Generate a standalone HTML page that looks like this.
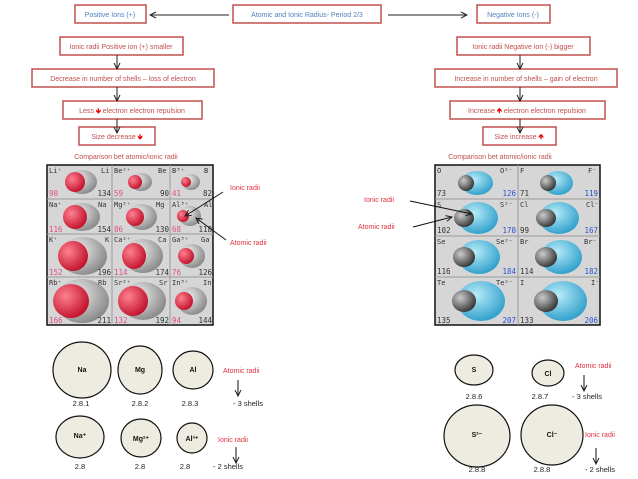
<!DOCTYPE html>
<html><head><meta charset="utf-8"><style>
html,body{margin:0;padding:0;background:#fff;}
svg{display:block;font-family:"Liberation Sans",sans-serif;}
.b{fill:#fff;stroke:#c0504d;stroke-width:1.5}
.bt{fill:#4f81bd;font-size:7px;text-anchor:middle}
.rt{fill:#c0504d;font-size:7px;text-anchor:middle}
.r{fill:#e03040;font-size:7px}
.k{fill:#222;font-size:7px;text-anchor:middle}
.s{fill:#333;font-size:7px;font-family:"DejaVu Sans Mono",monospace}
.bl{fill:#3050d0;font-size:7.5px;font-family:"DejaVu Sans Mono",monospace}
.pk{fill:#e0508a;font-size:7.5px;font-family:"DejaVu Sans Mono",monospace}
.dk{fill:#333;font-size:7.5px;font-family:"DejaVu Sans Mono",monospace}
.c{fill:#eeece1;stroke:#111;stroke-width:1.2}
.ct{fill:#111;font-size:7px;font-weight:bold;text-anchor:middle}
.n{fill:#222;font-size:7.5px;text-anchor:middle}
</style></head><body>
<svg width="638" height="479" viewBox="0 0 638 479">
<defs>
<marker id="a" markerWidth="8" markerHeight="8" refX="7" refY="4" orient="auto"><path d="M1,1 L7,4 L1,7" fill="none" stroke="#222" stroke-width="1"/></marker>
<radialGradient id="g" cx="0.35" cy="0.35" r="0.7"><stop offset="0" stop-color="#f4f4f4"/><stop offset="1" stop-color="#888"/></radialGradient>
<radialGradient id="rd" cx="0.35" cy="0.35" r="0.7"><stop offset="0" stop-color="#ff8090"/><stop offset="1" stop-color="#c0102a"/></radialGradient>
<radialGradient id="bu" cx="0.4" cy="0.35" r="0.7"><stop offset="0" stop-color="#b8ecfa"/><stop offset="1" stop-color="#2a9cc8"/></radialGradient>
<radialGradient id="dg" cx="0.35" cy="0.35" r="0.7"><stop offset="0" stop-color="#ccc"/><stop offset="1" stop-color="#333"/></radialGradient>
</defs>
<!-- top row -->
<rect class="b" x="75" y="5" width="71" height="18"/><text class="bt" x="110" y="17">Positive Ions (+)</text>
<rect class="b" x="233" y="5" width="148" height="18"/><text class="bt" x="307" y="17">Atomic and Ionic  Radius- Period 2/3</text>
<rect class="b" x="477" y="5" width="73" height="18"/><text class="bt" x="513" y="17">Negative Ions (-)</text>
<line x1="229" y1="15" x2="150" y2="15" stroke="#222" marker-end="url(#a)"/>
<line x1="388" y1="15" x2="467" y2="15" stroke="#222" marker-end="url(#a)"/>
<!-- left chain -->
<rect class="b" x="60" y="37" width="123" height="18"/><text class="rt" x="121" y="49">Ionic radii Positive ion (+) smaller</text>
<rect class="b" x="32" y="69" width="182" height="18"/><text class="rt" x="123" y="81">Decrease in number of shells – loss of electron</text>
<rect class="b" x="63" y="101" width="139" height="18"/><text class="rt" x="132" y="113">Less <tspan fill="#e00" font-weight="bold">🡻</tspan> electron electron repulsion</text>
<rect class="b" x="79" y="127" width="76" height="18"/><text class="rt" x="117" y="139">Size decrease <tspan fill="#e00" font-weight="bold">🡻</tspan></text>
<line x1="117" y1="55" x2="117" y2="69" stroke="#222" marker-end="url(#a)"/>
<line x1="117" y1="87" x2="117" y2="101" stroke="#222" marker-end="url(#a)"/>
<line x1="117" y1="119" x2="117" y2="133" stroke="#222" marker-end="url(#a)"/>
<text class="rt" x="126" y="159">Comparison bet atomic/ionic radii</text>
<!-- right chain -->
<rect class="b" x="457" y="37" width="133" height="18"/><text class="rt" x="523" y="49">Ionic radii Negative ion (-) bigger</text>
<rect class="b" x="435" y="69" width="182" height="18"/><text class="rt" x="526" y="81">Increase in number of shells – gain of electron</text>
<rect class="b" x="450" y="101" width="155" height="18"/><text class="rt" x="527" y="113">Increase <tspan fill="#e00" font-weight="bold">🡹</tspan> electron electron repulsion</text>
<rect class="b" x="483" y="127" width="73" height="18"/><text class="rt" x="519" y="139">Size increase <tspan fill="#e00" font-weight="bold">🡹</tspan></text>
<line x1="520" y1="55" x2="520" y2="69" stroke="#222" marker-end="url(#a)"/>
<line x1="520" y1="87" x2="520" y2="101" stroke="#222" marker-end="url(#a)"/>
<line x1="520" y1="119" x2="520" y2="133" stroke="#222" marker-end="url(#a)"/>
<text class="rt" x="500" y="159">Comparison bet atomic/ionic radii</text>

<!-- left table -->
<rect x="47" y="165" width="166" height="160" fill="#d6d6d6" stroke="#111" stroke-width="1.5"/>
<g stroke="#999" stroke-width="1"><line x1="112" y1="165" x2="112" y2="325"/><line x1="170" y1="165" x2="170" y2="325"/>
<line x1="47" y1="199" x2="213" y2="199"/><line x1="47" y1="234" x2="213" y2="234"/><line x1="47" y1="277" x2="213" y2="277"/></g>
<g>
<ellipse cx="82" cy="182" rx="15" ry="12" fill="url(#g)"/><ellipse cx="75" cy="182" rx="10" ry="10" fill="url(#rd)"/>
<ellipse cx="141" cy="182" rx="11" ry="9" fill="url(#g)"/><ellipse cx="135" cy="182" rx="7" ry="7" fill="url(#rd)"/>
<ellipse cx="191" cy="182" rx="9" ry="8" fill="url(#g)"/><ellipse cx="186" cy="182" rx="5" ry="5" fill="url(#rd)"/>
<ellipse cx="82" cy="217" rx="18" ry="14" fill="url(#g)"/><ellipse cx="75" cy="217" rx="12" ry="12" fill="url(#rd)"/>
<ellipse cx="142" cy="217" rx="15" ry="13" fill="url(#g)"/><ellipse cx="135" cy="217" rx="9" ry="9" fill="url(#rd)"/>
<ellipse cx="190" cy="216" rx="11" ry="10" fill="url(#g)"/><ellipse cx="183" cy="216" rx="6" ry="6" fill="url(#rd)"/>
<ellipse cx="83" cy="256" rx="24" ry="19" fill="url(#g)"/><ellipse cx="73" cy="256" rx="15" ry="15" fill="url(#rd)"/>
<ellipse cx="143" cy="256" rx="20" ry="17" fill="url(#g)"/><ellipse cx="134" cy="256" rx="12" ry="13" fill="url(#rd)"/>
<ellipse cx="192" cy="256" rx="13" ry="12" fill="url(#g)"/><ellipse cx="186" cy="256" rx="8" ry="8" fill="url(#rd)"/>
<ellipse cx="82" cy="301" rx="27" ry="22" fill="url(#g)"/><ellipse cx="71" cy="301" rx="18" ry="17" fill="url(#rd)"/>
<ellipse cx="143" cy="301" rx="23" ry="19" fill="url(#g)"/><ellipse cx="133" cy="301" rx="15" ry="15" fill="url(#rd)"/>
<ellipse cx="192" cy="301" rx="15" ry="14" fill="url(#g)"/><ellipse cx="184" cy="301" rx="9" ry="9" fill="url(#rd)"/>
</g>
<g class="s">
<text x="49" y="173">Li⁺</text><text x="101" y="173">Li</text><text x="114" y="173">Be²⁺</text><text x="158" y="173">Be</text><text x="172" y="173">B³⁺</text><text x="204" y="173">B</text>
<text x="49" y="207">Na⁺</text><text x="98" y="207">Na</text><text x="114" y="207">Mg²⁺</text><text x="156" y="207">Mg</text><text x="172" y="207">Al³⁺</text><text x="204" y="207">Al</text>
<text x="49" y="242">K⁺</text><text x="105" y="242">K</text><text x="114" y="242">Ca²⁺</text><text x="158" y="242">Ca</text><text x="172" y="242">Ga³⁺</text><text x="201" y="242">Ga</text>
<text x="49" y="285">Rb⁺</text><text x="98" y="285">Rb</text><text x="114" y="285">Sr²⁺</text><text x="159" y="285">Sr</text><text x="172" y="285">In³⁺</text><text x="203" y="285">In</text>
</g>
<g class="pk"><text x="49" y="196">90</text><text x="114" y="196">59</text><text x="172" y="196">41</text>
<text x="49" y="232">116</text><text x="114" y="232">86</text><text x="172" y="232">68</text>
<text x="49" y="275">152</text><text x="114" y="275">114</text><text x="172" y="275">76</text>
<text x="49" y="323">166</text><text x="114" y="323">132</text><text x="172" y="323">94</text></g>
<g class="dk" text-anchor="end"><text x="111" y="196">134</text><text x="169" y="196">90</text><text x="212" y="196">82</text>
<text x="111" y="232">154</text><text x="169" y="232">130</text><text x="212" y="232">118</text>
<text x="111" y="275">196</text><text x="169" y="275">174</text><text x="212" y="275">126</text>
<text x="111" y="323">211</text><text x="169" y="323">192</text><text x="212" y="323">144</text></g>
<text class="r" x="230" y="190">Ionic radii</text><text class="r" x="230" y="245">Atomic radii</text>
<line x1="223" y1="192" x2="185" y2="216" stroke="#111" marker-end="url(#a)"/>
<line x1="226" y1="240" x2="196" y2="218" stroke="#111" marker-end="url(#a)"/>

<!-- right table -->
<rect x="435" y="165" width="165" height="160" fill="#d6d6d6" stroke="#111" stroke-width="1.5"/>
<g stroke="#999" stroke-width="1"><line x1="518" y1="165" x2="518" y2="325"/>
<line x1="435" y1="199" x2="600" y2="199"/><line x1="435" y1="236" x2="600" y2="236"/><line x1="435" y1="277" x2="600" y2="277"/></g>
<g>
<ellipse cx="477" cy="183" rx="16" ry="12" fill="url(#bu)"/><ellipse cx="466" cy="183" rx="8" ry="8" fill="url(#dg)"/>
<ellipse cx="558" cy="183" rx="15" ry="12" fill="url(#bu)"/><ellipse cx="548" cy="183" rx="8" ry="8" fill="url(#dg)"/>
<ellipse cx="478" cy="218" rx="20" ry="16" fill="url(#bu)"/><ellipse cx="464" cy="218" rx="10" ry="9" fill="url(#dg)"/>
<ellipse cx="559" cy="218" rx="20" ry="16" fill="url(#bu)"/><ellipse cx="546" cy="218" rx="10" ry="9" fill="url(#dg)"/>
<ellipse cx="479" cy="257" rx="21" ry="17" fill="url(#bu)"/><ellipse cx="464" cy="257" rx="11" ry="10" fill="url(#dg)"/>
<ellipse cx="561" cy="257" rx="21" ry="17" fill="url(#bu)"/><ellipse cx="546" cy="257" rx="11" ry="10" fill="url(#dg)"/>
<ellipse cx="481" cy="301" rx="24" ry="20" fill="url(#bu)"/><ellipse cx="464" cy="301" rx="12" ry="11" fill="url(#dg)"/>
<ellipse cx="563" cy="301" rx="24" ry="20" fill="url(#bu)"/><ellipse cx="546" cy="301" rx="12" ry="11" fill="url(#dg)"/>
</g>
<g class="s">
<text x="437" y="173">O</text><text x="500" y="173">O²⁻</text><text x="520" y="173">F</text><text x="588" y="173">F⁻</text>
<text x="437" y="207">S</text><text x="500" y="207">S²⁻</text><text x="520" y="207">Cl</text><text x="586" y="207">Cl⁻</text>
<text x="437" y="244">Se</text><text x="496" y="244">Se²⁻</text><text x="520" y="244">Br</text><text x="584" y="244">Br⁻</text>
<text x="437" y="285">Te</text><text x="496" y="285">Te²⁻</text><text x="520" y="285">I</text><text x="591" y="285">I⁻</text>
</g>
<g class="dk"><text x="437" y="196">73</text><text x="520" y="196">71</text><text x="437" y="233">102</text><text x="520" y="233">99</text>
<text x="437" y="274">116</text><text x="520" y="274">114</text><text x="437" y="323">135</text><text x="520" y="323">133</text></g>
<g class="bl" text-anchor="end"><text x="516" y="196">126</text><text x="598" y="196">119</text><text x="516" y="233">170</text><text x="598" y="233">167</text>
<text x="516" y="274">184</text><text x="598" y="274">182</text><text x="516" y="323">207</text><text x="598" y="323">206</text></g>
<text class="r" x="364" y="202">Ionic radii</text><text class="r" x="358" y="229">Atomic radii</text>
<line x1="410" y1="201" x2="472" y2="214" stroke="#111" marker-end="url(#a)"/>
<line x1="413" y1="227" x2="452" y2="217" stroke="#111" marker-end="url(#a)"/>

<!-- bottom left -->
<ellipse class="c" cx="82" cy="370" rx="29" ry="28"/><text class="ct" x="82" y="372">Na</text>
<ellipse class="c" cx="140" cy="370" rx="22" ry="24"/><text class="ct" x="140" y="372">Mg</text>
<ellipse class="c" cx="193" cy="370" rx="20" ry="19"/><text class="ct" x="193" y="372">Al</text>
<text class="n" x="81" y="406">2.8.1</text><text class="n" x="140" y="406">2.8.2</text><text class="n" x="190" y="406">2.8.3</text><text class="n" x="248" y="406">- 3 shells</text>
<text class="r" x="223" y="373">Atomic radii</text>
<line x1="238" y1="380" x2="238" y2="396" stroke="#111" marker-end="url(#a)"/>
<ellipse class="c" cx="80" cy="437" rx="24" ry="21"/><text class="ct" x="80" y="438">Na⁺</text>
<ellipse class="c" cx="141" cy="438" rx="20" ry="19"/><text class="ct" x="141" y="441">Mg²⁺</text>
<ellipse class="c" cx="192" cy="438" rx="15" ry="15"/><text class="ct" x="192" y="441" font-size="6">Al³⁺</text>
<text class="n" x="80" y="469">2.8</text><text class="n" x="140" y="469">2.8</text><text class="n" x="185" y="469">2.8</text><text class="n" x="228" y="469">- 2 shells</text>
<text class="r" x="218" y="442">Ionic radii</text>
<line x1="236" y1="447" x2="236" y2="463" stroke="#111" marker-end="url(#a)"/>

<!-- bottom right -->
<ellipse class="c" cx="474" cy="370" rx="19" ry="15"/><text class="ct" x="474" y="372">S</text>
<ellipse class="c" cx="548" cy="373" rx="16" ry="13"/><text class="ct" x="548" y="376">Cl</text>
<text class="n" x="474" y="399">2.8.6</text><text class="n" x="540" y="399">2.8.7</text><text class="n" x="587" y="399">- 3 shells</text>
<text class="r" x="575" y="368">Atomic radii</text>
<line x1="584" y1="375" x2="584" y2="391" stroke="#111" marker-end="url(#a)"/>
<ellipse class="c" cx="477" cy="436" rx="33" ry="31"/><text class="ct" x="477" y="437">S²⁻</text>
<ellipse class="c" cx="552" cy="435" rx="31" ry="30"/><text class="ct" x="552" y="437">Cl⁻</text>
<text class="n" x="477" y="472">2.8.8</text><text class="n" x="542" y="472">2.8.8</text><text class="n" x="600" y="472">- 2 shells</text>
<text class="r" x="585" y="437">Ionic radii</text>
<line x1="596" y1="448" x2="596" y2="464" stroke="#111" marker-end="url(#a)"/>
</svg>
</body></html>
